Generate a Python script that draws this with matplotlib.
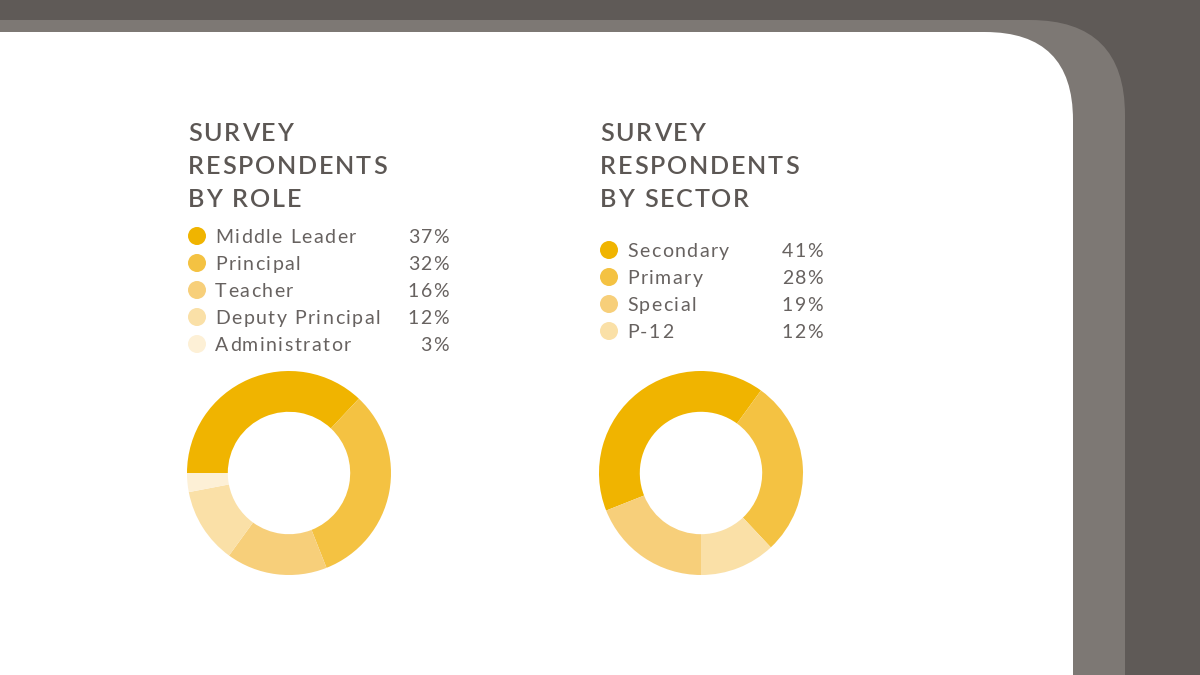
import matplotlib
matplotlib.use("Agg")
import matplotlib.pyplot as plt
from matplotlib.patches import FancyBboxPatch, Circle
from matplotlib.font_manager import FontProperties, findfont, get_font

# data
role_labels = ["Middle Leader", "Principal", "Teacher", "Deputy Principal", "Administrator"]
role_values = [37, 32, 16, 12, 3]
role_colors = ["#f0b400", "#f4c242", "#f7cf7a", "#fae0a7", "#fdf0d6"]

sector_labels = ["Secondary", "Primary", "Special", "P-12"]
sector_values = [41, 28, 19, 12]
sector_colors = ["#f0b400", "#f4c242", "#f7cf7a", "#fae0a7"]

DARK = "#5f5a57"
MID = "#7d7874"
TEXT = "#5c5754"
LEG_TEXT = "#676260"
DPI = 100

fig = plt.figure(figsize=(12, 6.75), dpi=DPI, facecolor=DARK)
bg = fig.add_axes([0, 0, 1, 1])
bg.set_xlim(0, 1200)
bg.set_ylim(675, 0)
bg.axis("off")

# rounded panels
bg.add_patch(FancyBboxPatch((-300, 20), 1425, 900, boxstyle="round,pad=0,rounding_size=95",
                            fc=MID, ec="none"))
bg.add_patch(FancyBboxPatch((-300, 32), 1373, 900, boxstyle="round,pad=0,rounding_size=88",
                            fc="white", ec="none"))


def spaced_text(x, y, s, size, track, weight="normal", ha="left", color=TEXT):
    # matplotlib has no letter spacing, so place glyphs one by one
    fp = FontProperties(family="Lato", weight=weight, size=size)
    font = get_font(findfont(fp))
    font.set_size(size, DPI)
    adv = []
    for ch in s:
        g = font.load_char(ord(ch))
        adv.append(g.linearHoriAdvance / 65536)
    total = sum(adv) + track * (len(s) - 1)
    cx = x - total if ha == "right" else x
    for ch, a in zip(s, adv):
        bg.text(cx, y, ch, fontproperties=fp, color=color, va="baseline", ha="left")
        cx += a + track


def panel(x0, title_lines, legend_y0, labels, values, colors, pct_x):
    for i, line in enumerate(title_lines):
        spaced_text(x0, 141 + 33 * i, line, 18.1, 1.8, weight="semibold")
    for i, (lab, val, col) in enumerate(zip(labels, values, colors)):
        cy = legend_y0 + 27 * i
        bg.add_patch(Circle((x0 + 9, cy), 9, fc=col, ec="none"))
        spaced_text(x0 + 27, cy + 7, lab, 14, 1.5, color=LEG_TEXT)
        spaced_text(pct_x, cy + 7, f"{val}%", 14, 1.5, ha="right", color=LEG_TEXT)


def donut(cx, cy, r, values, colors, start):
    ax = fig.add_axes([(cx - r) / 1200, (675 - cy - r) / 675, 2 * r / 1200, 2 * r / 675])
    ax.pie(values, colors=colors, startangle=start, counterclock=False, radius=1,
           wedgeprops=dict(width=0.4, edgecolor="none", linewidth=0))
    ax.set_xlim(-1, 1)
    ax.set_ylim(-1, 1)
    ax.axis("off")


panel(188, ["SURVEY", "RESPONDENTS", "BY ROLE"], 236, role_labels, role_values, role_colors, 449)
panel(600, ["SURVEY", "RESPONDENTS", "BY SECTOR"], 250, sector_labels, sector_values, sector_colors, 823)

donut(289, 473, 102, role_values, role_colors, 180)
# sector ring goes Secondary, Primary, P-12, Special clockwise
order = [0, 1, 3, 2]
donut(701, 473, 102, [sector_values[i] for i in order], [sector_colors[i] for i in order], 201.6)

fig.savefig("out.png", dpi=DPI, facecolor=DARK)
